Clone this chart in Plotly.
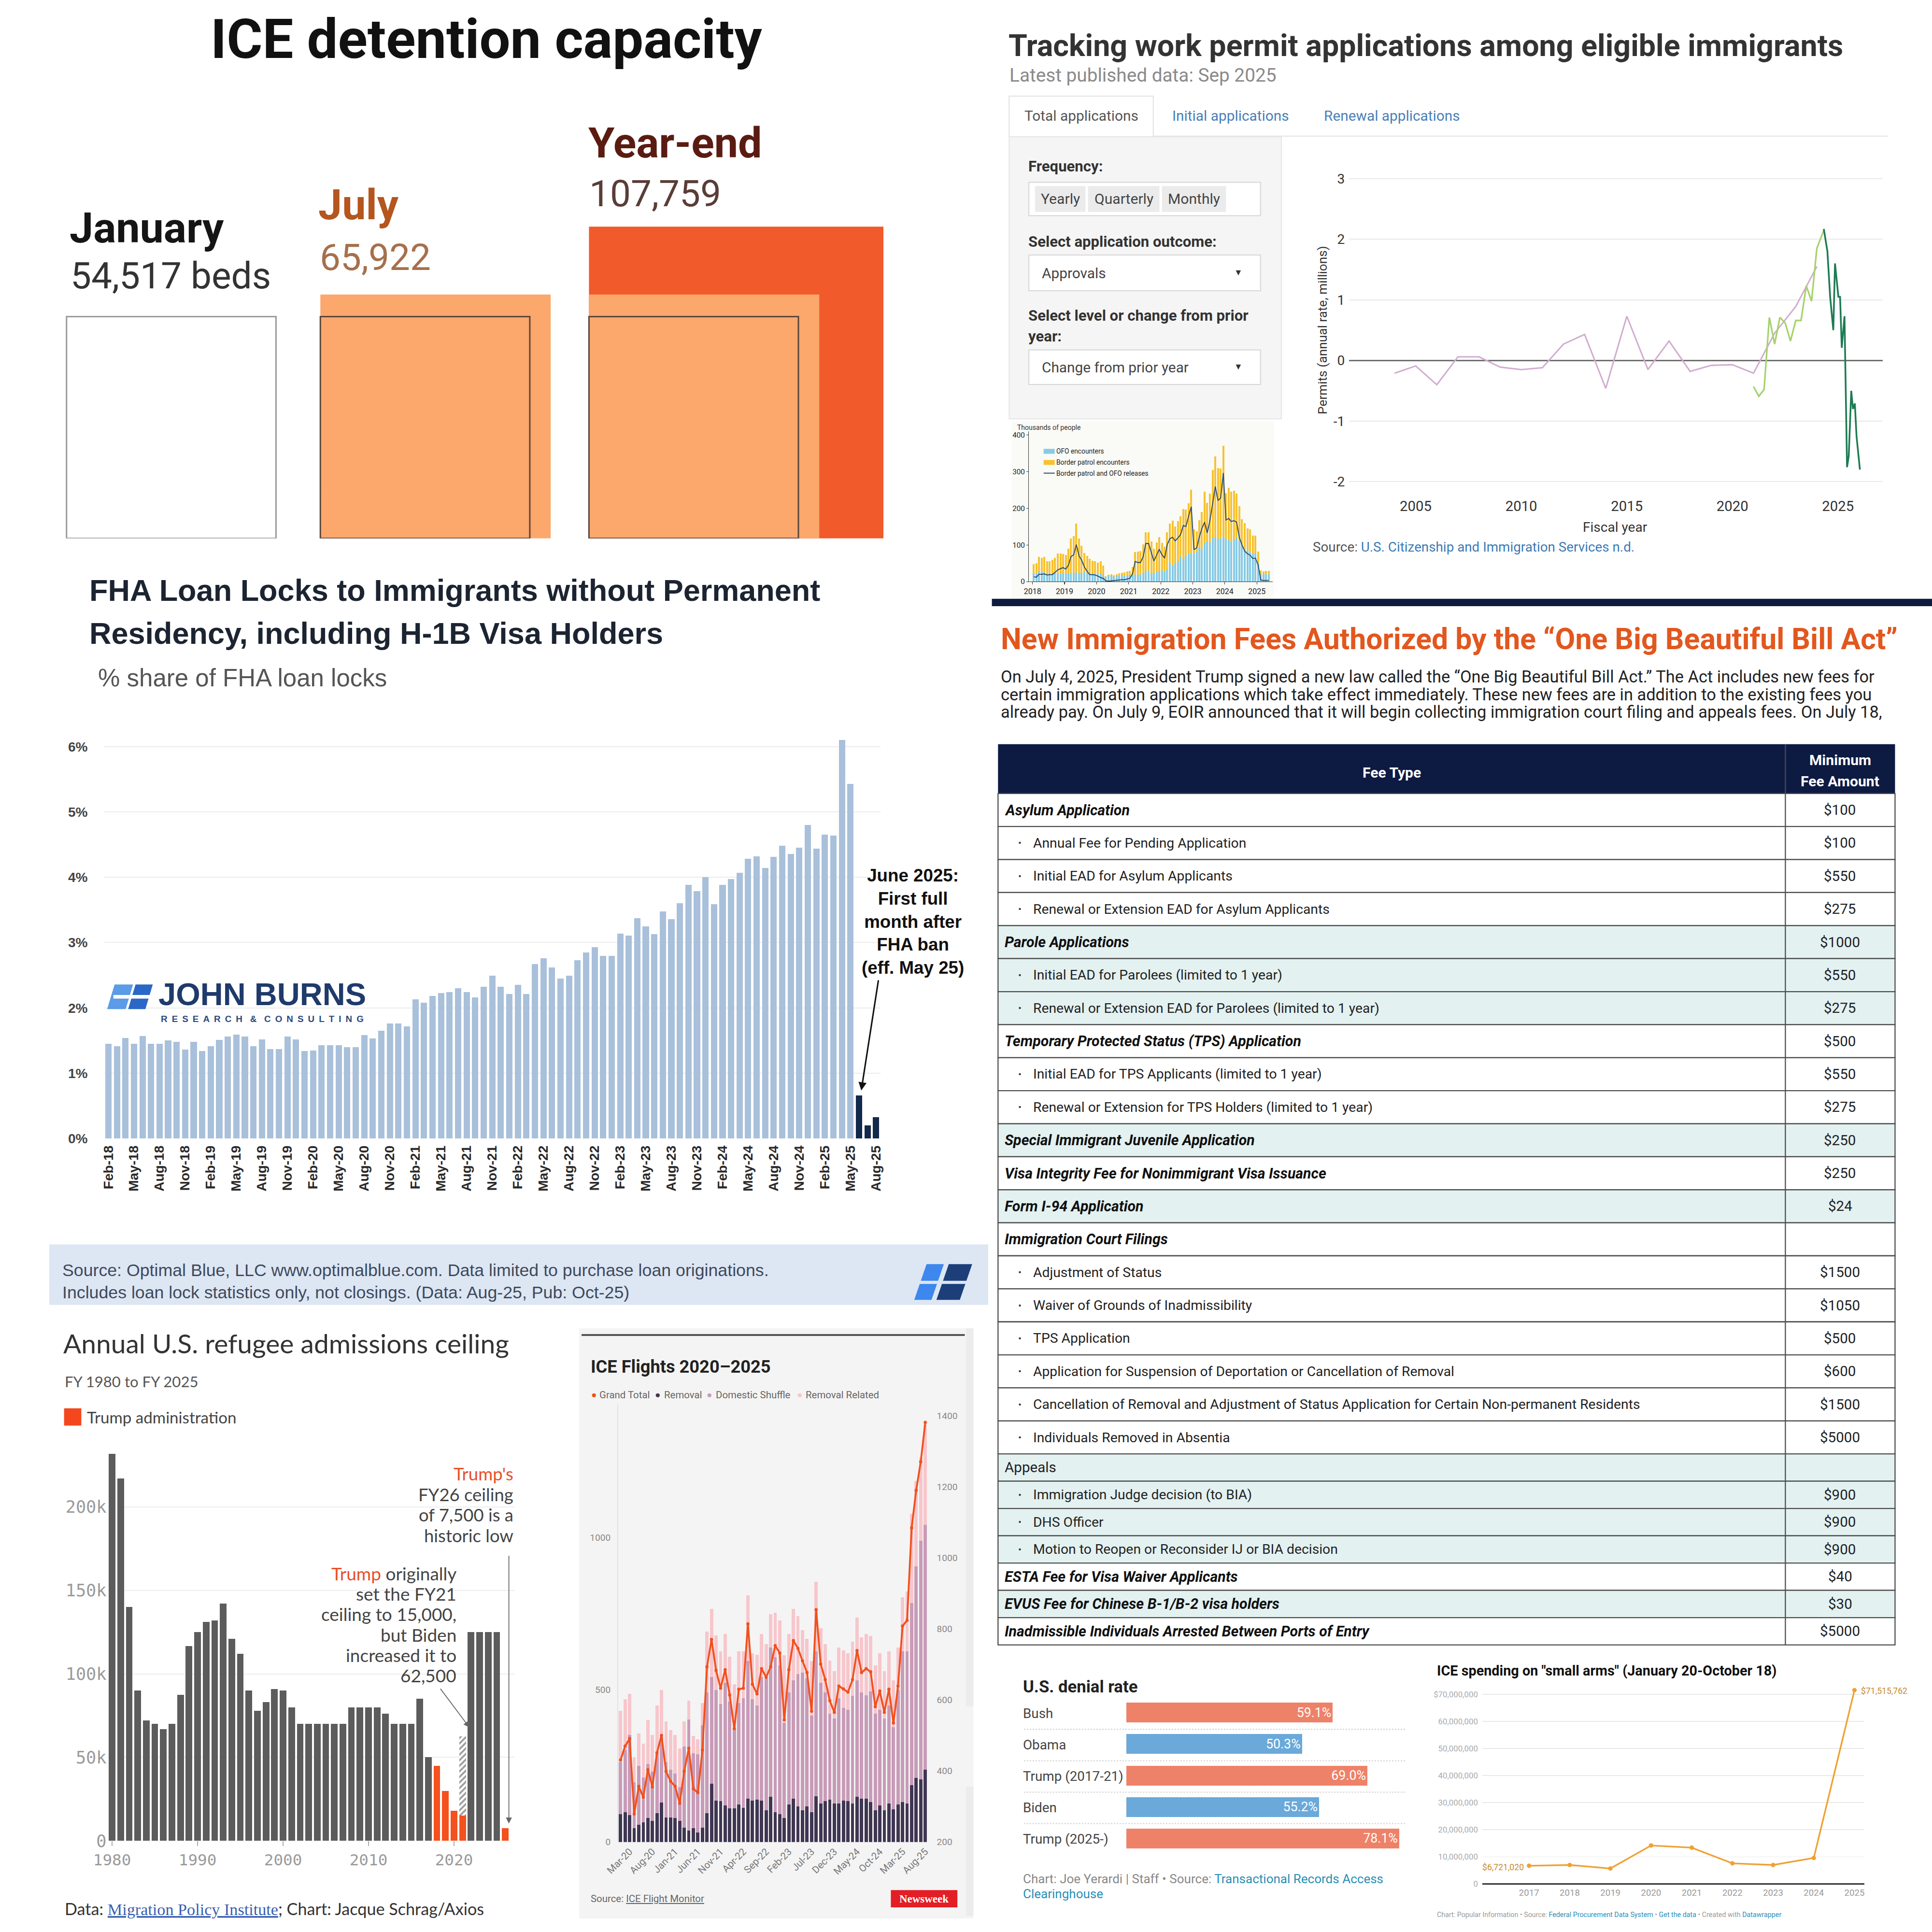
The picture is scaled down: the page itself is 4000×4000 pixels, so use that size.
import math
import pandas as pd
import plotly.graph_objects as go

# ============================ DATA ============================
# ICE detention capacity
det_periods = ["January", "July", "Year-end"]
det_beds = [54517, 65922, 107759]
det_value_text = ["54,517 beds", "65,922", "107,759"]

# Work permit approvals, change from prior year (millions)
wp_yearly_x = list(range(2004, 2025))
wp_yearly_y = [-0.21, -0.09, -0.40, 0.06, 0.06, -0.11, -0.15, -0.12, 0.27, 0.43, -0.46,
               0.73, -0.15, 0.32, -0.18, -0.08, -0.07, -0.21, 0.45, 0.89, 1.55]
wp_quarterly_x = [2021.0, 2021.25, 2021.5, 2021.75, 2022.0, 2022.25, 2022.5, 2022.75,
                  2023.0, 2023.25, 2023.5, 2023.75, 2024.0, 2024.25, 2024.33]
wp_quarterly_y = [-0.43, -0.59, -0.48, 0.71, 0.27, 0.71, 0.62, 0.32, 0.66, 0.66, 1.23,
                  0.98, 1.85, 2.08, 2.15]
wp_monthly_x = [2024.33, 2024.5, 2024.63, 2024.78, 2024.86, 2024.94, 2025.02, 2025.10, 2025.18,
                2025.31, 2025.43, 2025.51, 2025.63, 2025.71, 2025.80, 2025.88, 2026.04]
wp_monthly_y = [2.17, 1.80, 1.05, 0.50, 1.60, 1.35, 1.05, 1.05, 0.21, 0.73, -1.76, -1.58,
                -0.50, -0.80, -0.71, -1.25, -1.80]
wp_tabs = ["Total applications", "Initial applications", "Renewal applications"]
wp_freq = ["Yearly", "Quarterly", "Monthly"]

# Border encounters inset (thousands of people, monthly Jan 2018 - May 2025)
border_ofo = [22, 22, 28, 26, 25, 20, 21, 22, 23, 23, 23, 23,
              23, 23, 24, 24, 25, 23, 24, 26, 24, 22, 22, 22,
              22, 22, 18, 12, 16, 17, 13, 15, 16, 17, 16, 17,
              17, 18, 18, 19, 20, 24, 28, 30, 22, 24, 26, 28,
              30, 26, 33, 52, 45, 50, 56, 68, 62, 70, 75, 77,
              78, 82, 92, 90, 105, 110, 107, 121, 120, 118, 117, 120,
              118, 114, 108, 116, 120, 112, 100, 90, 84, 80, 78, 76,
              52, 20, 20, 20, 20]
border_bp = [26, 28, 39, 39, 42, 36, 34, 38, 41, 53, 53, 52,
             50, 67, 94, 100, 133, 95, 73, 52, 46, 40, 35, 34,
             30, 33, 26, 3, 2, 3, 4, 5, 6, 7, 9, 11,
             12, 22, 62, 63, 63, 78, 107, 104, 87, 66, 81, 93,
             75, 69, 102, 106, 121, 100, 109, 110, 136, 127, 139, 173,
             64, 55, 75, 100, 140, 105, 133, 184, 221, 192, 191, 250,
             123, 142, 137, 132, 120, 93, 70, 70, 61, 63, 47, 49,
             30, 10, 8, 9, 9]
border_releases = [13, 12, 20, 20, 21, 18, 19, 19, 25, 32, 35, 38,
                   34, 45, 68, 73, 101, 70, 58, 40, 28, 19, 19, 18,
                   15, 11, 9, 2, 1, 2, 3, 4, 5, 5, 5, 7,
                   9, 22, 55, 52, 52, 68, 104, 104, 80, 56, 72, 88,
                   73, 64, 100, 117, 121, 111, 119, 128, 153, 150, 179, 204,
                   87, 92, 120, 145, 162, 133, 166, 210, 259, 221, 228, 296,
                   168, 172, 164, 166, 162, 120, 100, 83, 76, 72, 63, 64,
                   45, 4, 3, 3, 3]
border_years = ["2018", "2019", "2020", "2021", "2022", "2023", "2024", "2025"]

# FHA loan locks share (%), Feb-18 .. Aug-25
fha_share = [1.45, 1.41, 1.54, 1.45, 1.57, 1.45, 1.45, 1.50, 1.48, 1.36, 1.48,
             1.34, 1.41, 1.51, 1.56, 1.59, 1.56, 1.41, 1.52, 1.37, 1.37, 1.56, 1.52,
             1.34, 1.35, 1.43, 1.43, 1.43, 1.40, 1.40, 1.58, 1.53, 1.65, 1.76, 1.76,
             1.72, 2.13, 2.08, 2.18, 2.23, 2.24, 2.30, 2.24, 2.16, 2.32, 2.49, 2.32,
             2.21, 2.35, 2.21, 2.67, 2.76, 2.62, 2.45, 2.49, 2.73, 2.85, 2.93, 2.80,
             2.80, 3.14, 3.11, 3.37, 3.25, 3.13, 3.48, 3.36, 3.60, 3.88, 3.79, 4.00,
             3.59, 3.88, 3.97, 4.07, 4.28, 4.32, 4.14, 4.31, 4.48, 4.36, 4.45, 4.80,
             4.44, 4.65, 4.64, 6.10, 5.43, 0.66, 0.20, 0.33]
fha_ban_months = 3  # last three months (after FHA ban) in dark

# Refugee admissions ceiling FY1980 - FY2026
ref_years = list(range(1980, 2027))
ref_ceiling = [231700, 217000, 140000, 90000, 72000, 70000, 67000, 70000, 87500, 116500,
               125000, 131000, 132000, 142000, 121000, 112000, 90000, 78000, 83000, 91000,
               90000, 80000, 70000, 70000, 70000, 70000, 70000, 70000, 80000, 80000,
               80000, 80000, 76000, 70000, 70000, 70000, 85000, 50000, 45000, 30000,
               18000, 15000, 125000, 125000, 125000, 125000, 7500]
ref_trump_years = [2018, 2019, 2020, 2021, 2026]
ref_fy21_biden = 62500

# ICE flights (monthly Jan-20 .. Aug-25)
flt_removal = [92, 98, 88, 45, 57, 64, 79, 69, 95, 130, 81, 81, 79, 69, 47, 37, 45, 32, 47, 95,
               191, 136, 134, 121, 111, 111, 123, 113, 142, 136, 139, 136, 104, 149, 98, 92, 79, 123, 142, 117,
               104, 117, 98, 151, 126, 134, 139, 126, 126, 136, 134, 126, 149, 142, 142, 132, 104, 120, 104, 126,
               108, 123, 132, 126, 187, 210, 206, 238]
flt_domestic = [171, 204, 264, 151, 194, 148, 178, 163, 194, 216, 182, 157, 146, 112, 267, 366, 246, 257, 337, 397,
                352, 363, 320, 403, 350, 260, 334, 360, 452, 333, 309, 407, 433, 490, 509, 489, 312, 369, 389, 435,
                452, 420, 318, 475, 398, 358, 283, 280, 347, 305, 301, 354, 382, 350, 340, 363, 318, 315, 302, 322,
                270, 376, 494, 500, 598, 696, 783, 804]
flt_related = [168, 167, 134, 83, 105, 112, 144, 120, 159, 153, 134, 130, 127, 127, 83, 61, 58, 48, 73, 200,
               223, 180, 172, 159, 148, 147, 169, 153, 216, 151, 168, 140, 114, 110, 146, 147, 222, 191, 235, 191,
               140, 130, 178, 229, 178, 159, 175, 156, 166, 189, 185, 178, 206, 181, 201, 182, 159, 185, 156, 178,
               153, 140, 178, 197, 293, 280, 273, 328]
flt_total = [431, 470, 491, 279, 357, 326, 404, 355, 451, 500, 399, 371, 357, 309, 399, 464, 350, 339, 459, 693,
             770, 683, 633, 685, 614, 519, 630, 633, 814, 644, 617, 688, 664, 693, 753, 732, 544, 685, 767, 745,
             710, 677, 568, 854, 701, 657, 598, 565, 639, 631, 622, 657, 739, 677, 688, 679, 581, 625, 565, 630,
             535, 639, 808, 824, 1084, 1190, 1270, 1381]
flt_series = ["Grand Total", "Removal", "Domestic Shuffle", "Removal Related"]

# Immigration fee table
fee_types = ["Asylum Application", "Annual Fee for Pending Application", "Initial EAD for Asylum Applicants",
             "Renewal or Extension EAD for Asylum Applicants", "Parole Applications",
             "Initial EAD for Parolees (limited to 1 year)",
             "Renewal or Extension EAD for Parolees (limited to 1 year)",
             "Temporary Protected Status (TPS) Application", "Initial EAD for TPS Applicants (limited to 1 year)",
             "Renewal or Extension for TPS Holders (limited to 1 year)", "Special Immigrant Juvenile Application",
             "Visa Integrity Fee for Nonimmigrant Visa Issuance", "Form I-94 Application",
             "Immigration Court Filings", "Adjustment of Status", "Waiver of Grounds of Inadmissibility",
             "TPS Application", "Application for Suspension of Deportation or Cancellation of Removal",
             "Cancellation of Removal and Adjustment of Status Application for Certain Non-permanent Residents",
             "Individuals Removed in Absentia", "Appeals", "Immigration Judge decision (to BIA)", "DHS Officer",
             "Motion to Reopen or Reconsider IJ or BIA decision", "ESTA Fee for Visa Waiver Applicants",
             "EVUS Fee for Chinese B-1/B-2 visa holders", "Inadmissible Individuals Arrested Between Ports of Entry"]
fee_amounts = ["$100", "$100", "$550", "$275", "$1000", "$550", "$275", "$500", "$550", "$275", "$250",
               "$250", "$24", "", "$1500", "$1050", "$500", "$600", "$1500", "$5000", "", "$900", "$900",
               "$900", "$40", "$30", "$5000"]
fee_kind = ["h", "s", "s", "s", "h", "s", "s", "h", "s", "s", "h", "h", "h", "h", "s", "s", "s", "s", "s",
            "s", "p", "s", "s", "s", "h", "h", "h"]
fee_shaded = [0, 0, 0, 0, 1, 1, 1, 0, 0, 0, 1, 0, 1, 0, 0, 0, 0, 0, 0, 0, 1, 1, 1, 1, 0, 1, 0]

# U.S. denial rate
den_admin = ["Bush", "Obama", "Trump (2017-21)", "Biden", "Trump (2025-)"]
den_rate = [59.1, 50.3, 69.0, 55.2, 78.1]
den_party = ["R", "D", "R", "D", "R"]

# ICE spending on small arms
arms_years = [2017, 2018, 2019, 2020, 2021, 2022, 2023, 2024, 2025]
arms_spend = [6721020, 7000000, 5700000, 14200000, 13400000, 7600000, 7000000, 9600000, 71515762]

# ============================ HELPERS ============================
K = 4000 / 1568.0
ROBOTO = "Roboto"
ARIAL = "Liberation Sans"
LATO = "Lato"
MONO = "DejaVu Sans Mono"
NB = "\u00a0"
TH = "\u2009"


def PX(d):
    return d / 1568.0


def PY(d):
    return 1.0 - d / 1568.0


def FS(d):
    return d * K


def IS(d):
    return int(round(d * K))


ann = []
shp = []


def T(x, y, s, size, color="#222222", family=ROBOTO, xa="left", ya="middle", angle=0, align="left"):
    ann.append(dict(x=PX(x), y=PY(y), xref="paper", yref="paper", text=s, showarrow=False,
                    font=dict(size=FS(size), color=color, family=family), xanchor=xa, yanchor=ya,
                    textangle=angle, borderpad=0, align=align))


def R(x0, y0, x1, y1, fill="rgba(0,0,0,0)", line=None, lw=0, layer="above"):
    shp.append(dict(type="rect", xref="paper", yref="paper", x0=PX(x0), x1=PX(x1), y0=PY(y1), y1=PY(y0),
                    fillcolor=fill, line=dict(color=line or "rgba(0,0,0,0)", width=lw), layer=layer))


def L(x0, y0, x1, y1, color, lw, dash="solid", layer="above"):
    shp.append(dict(type="line", xref="paper", yref="paper", x0=PX(x0), x1=PX(x1), y0=PY(y0), y1=PY(y1),
                    line=dict(color=color, width=lw, dash=dash), layer=layer))


def POLY(pts, fill):
    p = "M " + " L ".join(f"{PX(a):.5f},{PY(b):.5f}" for a, b in pts) + " Z"
    shp.append(dict(type="path", xref="paper", yref="paper", path=p, fillcolor=fill,
                    line=dict(width=0), layer="above"))


def ARROW(hx, hy, tx, ty, color, width, head=2, size=1.0):
    ann.append(dict(x=PX(hx), y=PY(hy), xref="paper", yref="paper", ax=(tx - hx) * K, ay=(ty - hy) * K,
                    text="", showarrow=True, arrowhead=head, arrowsize=size, arrowwidth=width,
                    arrowcolor=color))


def DOM(x0, x1, y0, y1):
    return dict(domain=[PX(x0), PX(x1)]), dict(domain=[PY(y1), PY(y0)])


def base_axis(**kw):
    d = dict(showgrid=False, zeroline=False, showline=False, ticks="", showticklabels=False, fixedrange=True,
             automargin=False)
    d.update(kw)
    return d


fig = go.Figure()
layout_axes = {}

# ============================ PANEL 1: ICE detention ============================
P1_UX, P1_UY = 0.728, 0.771
dx, dy = DOM(40, 740, 150, 437)
layout_axes["xaxis"] = base_axis(**dx, range=[0, 700 / P1_UX], anchor="y")
layout_axes["yaxis"] = base_axis(**dy, range=[0, 287 / P1_UY], anchor="x")
p1_left = [(d - 40) / P1_UX for d in (54, 260, 478)]
side = [math.sqrt(v) for v in det_beds]
p1_fills = ["#ffffff", "#fca76c", "#f15a2b"]
for g in range(3):
    o = p1_left[g]
    for lvl in range(g, -1, -1):
        s = side[lvl]
        if lvl == 0:
            fc = "#ffffff" if g == 0 else "rgba(0,0,0,0)"
            lc = "#9b9b9b" if g == 0 else "#5b463c"
            lw = FS(1.2)
        else:
            fc, lc, lw = p1_fills[lvl], "rgba(0,0,0,0)", 0
        shp.append(dict(type="rect", xref="x", yref="y", x0=o, x1=o + s, y0=0, y1=s, fillcolor=fc,
                        line=dict(color=lc, width=lw), layer="above"))
fig.add_trace(go.Scatter(x=[p1_left[i] + side[i] for i in range(3)], y=side, mode="markers",
                         marker=dict(opacity=0), hoverinfo="skip", showlegend=False, xaxis="x", yaxis="y"))
T(395, 32, "<b>ICE detention capacity</b>", 44.5, "#111111", xa="center")
T(56, 185, f"<b>{det_periods[0]}</b>", 34.5, "#151515")
T(57, 224, det_value_text[0], 30, "#333333")
T(258, 166, f"<b>{det_periods[1]}</b>", 34.5, "#b4561d")
T(259, 209, det_value_text[1], 30, "#a6704c")
T(477, 116, f"<b>{det_periods[2]}</b>", 34.5, "#5a1c12")
T(478, 157, det_value_text[2], 30, "#5a3d37")

# ============================ PANEL 2: Work permits ============================
T(818, 37, "<b>Tracking work permit applications among eligible immigrants</b>", 24.6, "#333333")
T(819, 61, "Latest published data: Sep 2025", 15.2, "#8a8a8a")
R(819, 78, 936, 111, fill="#ffffff", line="#e2e2e2", lw=FS(0.8))
L(936, 110.5, 1532, 110.5, "#e6e6e6", FS(0.9))
T(831, 94, wp_tabs[0], 11.7, "#555555")
T(951, 94, wp_tabs[1], 11.7, "#4a80b8")
T(1074, 94, wp_tabs[2], 11.7, "#4a80b8")
R(819, 111, 1040, 340, fill="#f5f5f5", line="#e6e6e6", lw=FS(0.8))
T(834, 135, "<b>Frequency:</b>", 12.2, "#333333")
R(835, 148, 1023, 175, fill="#ffffff", line="#d6d6d6", lw=FS(0.8))
for (bx0, bx1), lab in zip([(840, 881), (883, 941), (943, 995)], wp_freq):
    R(bx0, 151, bx1, 172, fill="#ebebeb")
    T((bx0 + bx1) / 2, 161.5, lab, 11.8, "#444444", xa="center")
T(834, 196, "<b>Select application outcome:</b>", 12.2, "#333333")
R(835, 207, 1023, 236, fill="#ffffff", line="#d6d6d6", lw=FS(0.8))
T(845, 221.5, "Approvals", 11.7, "#444444")
T(1005, 221, "▼", 7, "#333333", xa="center")
T(834, 256, "<b>Select level or change from prior</b>", 12.2, "#333333")
T(834, 273, "<b>year:</b>", 12.2, "#333333")
R(835, 284, 1023, 312, fill="#ffffff", line="#d6d6d6", lw=FS(0.8))
T(845, 298, "Change from prior year", 11.7, "#444444")
T(1005, 297.5, "▼", 7, "#333333", xa="center")

dx, dy = DOM(1095, 1528, 142.5, 400.8)
layout_axes["xaxis2"] = base_axis(**dx, range=[2001.85, 2027.12], anchor="y2", showticklabels=True,
                                  tickvals=[2005, 2010, 2015, 2020, 2025],
                                  tickfont=dict(size=FS(11.5), color="#333333", family=ROBOTO),
                                  ticklabelstandoff=IS(2))
layout_axes["yaxis2"] = base_axis(**dy, range=[-2.2, 3.05], anchor="x2", showticklabels=True,
                                  tickvals=[-2, -1, 0, 1, 2, 3], ticktext=["-2", "-1", "0", "1", "2", "3"],
                                  showgrid=True, gridcolor="#e8e8e8",
                                  gridwidth=FS(0.8), zeroline=True, zerolinecolor="#707070",
                                  zerolinewidth=FS(1.2),
                                  tickfont=dict(size=FS(11), color="#333333", family=ROBOTO),
                                  ticklabelstandoff=IS(3))
fig.add_trace(go.Scatter(x=wp_yearly_x, y=wp_yearly_y, mode="lines", line=dict(color="#d2accf", width=FS(1.2)),
                         showlegend=False, xaxis="x2", yaxis="y2"))
fig.add_trace(go.Scatter(x=wp_quarterly_x, y=wp_quarterly_y, mode="lines",
                         line=dict(color="#a6d26c", width=FS(1.3)), showlegend=False, xaxis="x2", yaxis="y2"))
fig.add_trace(go.Scatter(x=wp_monthly_x, y=wp_monthly_y, mode="lines", line=dict(color="#1d7b52", width=FS(1.4)),
                         showlegend=False, xaxis="x2", yaxis="y2"))
T(1073, 268, "Permits (annual rate, millions)", 10.3, "#333333", xa="center", angle=-90)
T(1311, 428, "Fiscal year", 11, "#333333", xa="center")
T(1065, 444, "Source: <span style='color:#3d7ab5'>U.S. Citizenship and Immigration Services n.d.</span>",
  10.9, "#555555")

# ---- inset: border encounters ----
R(821, 342, 1034, 486, fill="#fafaf6", layer="below")
months_b = pd.date_range("2018-01-01", periods=len(border_ofo), freq="MS") + pd.Timedelta(days=14)
dx, dy = DOM(835, 1033, 350, 472)
layout_axes["xaxis3"] = base_axis(**dx, type="date", range=["2017-11-20", "2025-07-01"], anchor="y3",
                                  showticklabels=True, showline=True, linecolor="#333333", linewidth=FS(0.5),
                                  ticks="outside", ticklen=FS(2), tickcolor="#333333", tickwidth=FS(0.5),
                                  tickvals=[f"{y}-01-01" for y in border_years], ticktext=border_years,
                                  tickfont=dict(size=FS(6.3), color="#222222", family=ROBOTO))
layout_axes["yaxis3"] = base_axis(**dy, range=[0, 410], anchor="x3", showticklabels=True, showline=True,
                                  linecolor="#333333", linewidth=FS(0.5), ticks="outside", ticklen=FS(1.5),
                                  tickcolor="#333333", tickvals=[0, 100, 200, 300, 400],
                                  tickfont=dict(size=FS(6.0), color="#222222", family=ROBOTO))
bw = 22 * 86400000
fig.add_trace(go.Bar(x=months_b, y=border_ofo, marker=dict(color="#86cbe6", line=dict(width=0)), width=bw,
                     showlegend=False, xaxis="x3", yaxis="y3"))
fig.add_trace(go.Bar(x=months_b, y=border_bp, marker=dict(color="#f8c22f", line=dict(width=0)), width=bw,
                     showlegend=False, xaxis="x3", yaxis="y3"))
fig.add_trace(go.Scatter(x=months_b, y=border_releases, mode="lines", line=dict(color="#2f4d6d", width=FS(0.8)),
                         showlegend=False, xaxis="x3", yaxis="y3"))
T(825, 347, "Thousands of people", 5.5, "#333333")
R(847, 364.3, 856, 368.3, fill="#86cbe6")
T(857, 366.3, "OFO encounters", 5.4, "#222222")
R(847, 373.3, 856, 377.3, fill="#f8c22f")
T(857, 375.3, "Border patrol encounters", 5.4, "#222222")
L(847, 384, 856, 384, "#2f4d6d", FS(0.8))
T(857, 384, "Border patrol and OFO releases", 5.4, "#222222")
R(805, 486, 1568, 492, fill="#0e1a3e")

# ============================ PANEL 3: FHA ============================
T(72, 479, "<b>FHA Loan Locks to Immigrants without Permanent</b>", 24.7, "#1c2431", family=ARIAL)
T(72, 514, "<b>Residency, including H-1B Visa Holders</b>", 24.7, "#1c2431", family=ARIAL)
T(79, 550, "% share of FHA loan locks", 20, "#555555", family=ARIAL)
fha_months = list(pd.date_range("2018-02-01", periods=len(fha_share), freq="MS").strftime("%b-%y"))
dx, dy = DOM(84.5, 714.5, 598, 924)
layout_axes["xaxis4"] = base_axis(**dx, type="category", range=[-0.5, len(fha_share) - 0.5], anchor="y4",
                                  showticklabels=True, tickvals=fha_months[::3], tickangle=-90,
                                  tickfont=dict(size=FS(11), color="#2a2a2a", family=ARIAL, weight="bold"),
                                  ticklabelstandoff=IS(3))
layout_axes["yaxis4"] = base_axis(**dy, range=[0, 6.15], anchor="x4", showticklabels=True,
                                  tickvals=[0, 1, 2, 3, 4, 5, 6], ticktext=[f"{v}%" for v in range(7)],
                                  showgrid=True, gridcolor="#ececec", gridwidth=FS(0.8),
                                  tickfont=dict(size=FS(11), color="#444444", family=ARIAL, weight="bold"),
                                  ticklabelstandoff=IS(13))
nl = len(fha_share) - fha_ban_months
fig.add_trace(go.Bar(x=fha_months[:nl], y=fha_share[:nl], marker=dict(color="#a9c0da", line=dict(width=0)),
                     width=0.74, showlegend=False, xaxis="x4", yaxis="y4"))
fig.add_trace(go.Bar(x=fha_months[nl:], y=fha_share[nl:], marker=dict(color="#13294b", line=dict(width=0)),
                     width=0.74, showlegend=False, xaxis="x4", yaxis="y4"))
T(741, 748, "<b>June 2025:<br>First full<br>month after<br>FHA ban<br>(eff. May 25)</b>", 14.4, "#111111",
  family=ARIAL, xa="center", align="center")
ARROW(699, 885, 713, 795, "#111111", FS(1.2), head=2, size=1.1)
# John Burns logo
POLY([(93, 799), (108, 799), (102, 819), (87, 819)], "#5b9be8")
POLY([(110, 799), (124, 799), (118, 819), (104, 819)], "#2b67c7")
R(92, 807.5, 122, 810.5, fill="#ffffff")
T(128, 807, "<b>JOHN BURNS</b>", 25.5, "#1f3a6b", family=ARIAL)
spaced = (NB + TH).join("RESEARCH") + NB * 3 + "&" + NB * 3 + (NB + TH).join("CONSULTING")
T(130, 827, f"<b>{spaced}</b>", 7.4, "#2d4a7c", family=ARIAL)
# footer
R(40, 1010, 802, 1059, fill="#dde6f3", layer="below")
T(50, 1031, "Source: Optimal Blue, LLC www.optimalblue.com. Data limited to purchase loan originations.",
  14, "#3d4a5c", family=ARIAL)
T(50, 1049, "Includes loan lock statistics only, not closings. (Data: Aug-25, Pub: Oct-25)", 14, "#3d4a5c",
  family=ARIAL)
POLY([(752, 1026), (766, 1026), (756, 1055), (742, 1055)], "#3d87ee")
POLY([(770, 1026), (789, 1026), (779, 1055), (760, 1055)], "#1c3f7a")
R(742, 1039.5, 790, 1042, fill="#dde6f3")

# ============================ PANEL 4: Fee table ============================
T(812, 519, "<b>New Immigration Fees Authorized by the “One Big Beautiful Bill Act”</b>", 23.8, "#e2571e")
para = ["On July 4, 2025, President Trump signed a new law called the “One Big Beautiful Bill Act.” The Act includes new fees for",
        "certain immigration applications which take effect immediately. These new fees are in addition to the existing fees you",
        "already pay. On July 9, EOIR announced that it will begin collecting immigration court filing and appeals fees. On July 18,"]
for i, line in enumerate(para):
    T(812, 549 + 14.5 * i, line, 13.5, "#222222")
TX0, TX1, TDIV = 810, 1538, 1449
R(TX0, 604, TX1, 644, fill="#0d1a42")
T((TX0 + TDIV) / 2, 627, "<b>Fee Type</b>", 11.8, "#ffffff", xa="center")
T((TDIV + TX1) / 2, 617, "<b>Minimum</b>", 11.8, "#ffffff", xa="center")
T((TDIV + TX1) / 2, 634, "<b>Fee Amount</b>", 11.8, "#ffffff", xa="center")
row_h = [26.8] * 20 + [22.14] * 7
yy = 644
for i in range(len(fee_types)):
    h = row_h[i]
    R(TX0, yy, TX1, yy + h, fill="#e3f1f1" if fee_shaded[i] else "#ffffff", line="#4d4d4d", lw=FS(0.9))
    yc = yy + h / 2
    if fee_kind[i] == "h":
        T(815, yc, f"<b><i>{fee_types[i]}</i></b>", 11.9, "#111111")
    elif fee_kind[i] == "p":
        T(815, yc, fee_types[i], 11.6, "#222222")
    else:
        T(826, yc, "•", 8, "#333333")
        T(838, yc, fee_types[i], 11.1, "#222222")
    if fee_amounts[i]:
        T((TDIV + TX1) / 2, yc, fee_amounts[i], 11.6, "#222222", xa="center")
    yy += h
L(TDIV, 604, TDIV, yy, "#4d4d4d", FS(0.9))

# ============================ PANEL 5: Refugee ceiling ============================
T(51, 1090, "Annual U.S. refugee admissions ceiling", 21.6, "#333333", family=LATO)
T(52, 1121, "FY 1980 to FY 2025", 12.2, "#555555", family=LATO)
R(52, 1143, 66, 1157, fill="#f5471d")
T(70, 1150, "Trump administration", 13, "#444444", family=LATO)
dx, dy = DOM(88, 418, 1175, 1494)
layout_axes["xaxis5"] = base_axis(**dx, range=[1979.571, 2027.14], anchor="y5", showticklabels=True,
                                  tickvals=[1980, 1990, 2000, 2010, 2020], ticks="outside", ticklen=FS(4),
                                  tickcolor="#aaaaaa", tickwidth=FS(0.8),
                                  tickfont=dict(size=FS(12.8), color="#9a9a9a", family=MONO))
layout_axes["yaxis5"] = base_axis(**dy, range=[0, 235400], anchor="x5", showticklabels=True,
                                  tickvals=[0, 50000, 100000, 150000, 200000],
                                  ticktext=["0", "50k", "100k", "150k", "200k"], showgrid=True,
                                  gridcolor="#ededed", gridwidth=FS(0.8),
                                  tickfont=dict(size=FS(13.8), color="#9a9a9a", family=MONO),
                                  ticklabelstandoff=IS(1))
gx = [y for y in ref_years if y not in ref_trump_years]
gy = [ref_ceiling[ref_years.index(y)] for y in gx]
rx = list(ref_trump_years)
ry = [ref_ceiling[ref_years.index(y)] for y in rx]
fig.add_trace(go.Bar(x=gx, y=gy, marker=dict(color="#5c5c5c", line=dict(width=0)), width=0.78,
                     showlegend=False, xaxis="x5", yaxis="y5"))
fig.add_trace(go.Bar(x=rx, y=ry, marker=dict(color="#f4511e", line=dict(width=0)), width=0.78,
                     showlegend=False, xaxis="x5", yaxis="y5"))
fig.add_trace(go.Bar(x=[2021], y=[ref_fy21_biden - ref_ceiling[ref_years.index(2021)]],
                     marker=dict(color="#ffffff", line=dict(width=0),
                                 pattern=dict(shape="/", fgcolor="#333333", bgcolor="#ffffff", size=FS(3.2),
                                              solidity=0.45)),
                     width=0.78, showlegend=False, xaxis="x5", yaxis="y5"))
for i, (s, c) in enumerate([("Trump's", "#e8502a"), ("FY26 ceiling", "#444444"), ("of 7,500 is a", "#444444"),
                            ("historic low", "#444444")]):
    T(417, 1196 + 16.7 * i, s, 14.3, c, family=LATO, xa="right")
blk = ["<span style='color:#e8502a'>Trump</span> originally", "set the FY21", "ceiling to 15,000,", "but Biden",
       "increased it to", "62,500"]
for i, s in enumerate(blk):
    T(371, 1277 + 16.6 * i, s, 14.5, "#444444", family=LATO, xa="right")
ARROW(413, 1480, 413, 1262, "#666666", FS(0.7), head=2, size=1.4)
ARROW(381, 1402, 357, 1370, "#666666", FS(0.7), head=2, size=1.4)
T(52, 1549, "Data: <span style='font-family:Liberation Serif;color:#3a5fb0;text-decoration:underline'>"
            "Migration Policy Institute</span>; Chart: Jacque Schrag/Axios", 13.4, "#333333", family=LATO)

# ============================ PANEL 6: ICE flights ============================
R(470, 1078, 790, 1557, fill="#f4f4f4", layer="below")
R(784, 1078, 790, 1385, fill="#ececec", layer="below")
R(784, 1450, 790, 1555, fill="#ececec", layer="below")
L(472, 1083.5, 783, 1083.5, "#555555", FS(1.6))
T(479, 1109, "<b>ICE Flights 2020–2025</b>", 14.2, "#222222")
leg_cols = ["#f2501c", "#3f3652", "#c89bb8", "#f7c6cc"]
for (lx, tx_), lab, col in zip([(482, 486), (534, 538.5), (576, 580.5), (649, 653.5)], flt_series, leg_cols):
    T(lx, 1132, "●", 7.5, col, xa="center")
    T(tx_, 1132, lab, 8.0, "#666666")
flt_months = list(pd.date_range("2020-01-01", periods=len(flt_total), freq="MS").strftime("%b-%y"))
dx, dy = DOM(501.8, 752.8, 1140, 1495)
layout_axes["xaxis6"] = base_axis(**dx, type="category", range=[-0.5, len(flt_total) - 0.5], anchor="y6",
                                  showticklabels=True, tickvals=flt_months[2::5], tickangle=-45,
                                  tickfont=dict(size=FS(8), color="#777777", family=ROBOTO),
                                  ticklabelstandoff=IS(1))
layout_axes["yaxis6"] = base_axis(**dy, range=[0, 1437], anchor="x6", showticklabels=True,
                                  tickvals=[0, 500, 1000], showline=True, linecolor="#e2e2e2",
                                  linewidth=FS(0.8),
                                  tickfont=dict(size=FS(7.5), color="#888888", family=ROBOTO),
                                  ticklabelstandoff=IS(4))
layout_axes["yaxis7"] = base_axis(range=[200, 1431], anchor="x6", overlaying="y6", side="right",
                                  showticklabels=True, tickvals=[200, 400, 600, 800, 1000, 1200, 1400],
                                  tickfont=dict(size=FS(7.5), color="#888888", family=ROBOTO),
                                  ticklabelstandoff=IS(7))
for vals, col in zip([flt_removal, flt_domestic, flt_related], leg_cols[1:]):
    fig.add_trace(go.Bar(x=flt_months, y=vals, marker=dict(color=col, line=dict(width=0)), width=0.72,
                         showlegend=False, xaxis="x6", yaxis="y6"))
fig.add_trace(go.Scatter(x=flt_months, y=flt_total, mode="lines+markers",
                         line=dict(color="#f2501c", width=FS(1.5)), marker=dict(size=FS(2.6), color="#f2501c"),
                         showlegend=False, xaxis="x6", yaxis="y7", cliponaxis=False))
T(479, 1541, "Source: <span style='text-decoration:underline'>ICE Flight Monitor</span>", 8, "#666666")
R(723, 1534, 777, 1548, fill="#e31e24")
T(750, 1541, "<b>Newsweek</b>", 9, "#ffffff", family="Liberation Serif", xa="center")

# ============================ PANEL 7: Denial rate ============================
T(830, 1369, "<b>U.S. denial rate</b>", 13.6, "#222222")
dx, dy = DOM(914, 1141, 1377.25, 1504.75)
layout_axes["xaxis8"] = base_axis(**dx, range=[0, 80], anchor="y8")
layout_axes["yaxis8"] = base_axis(**dy, type="category", categoryorder="array", categoryarray=den_admin,
                                  range=[len(den_admin) - 0.5, -0.5], anchor="x8")
for party, col in [("R", "#ee8268"), ("D", "#6aa9d9")]:
    ys = [a for a, p in zip(den_admin, den_party) if p == party]
    xs = [r for r, p in zip(den_rate, den_party) if p == party]
    fig.add_trace(go.Bar(x=xs, y=ys, orientation="h", marker=dict(color=col, line=dict(width=0)), width=0.63,
                         text=[f"{v:.1f}%" for v in xs], textposition="inside", insidetextanchor="end",
                         textfont=dict(color="#ffffff", size=FS(10.5), family=ROBOTO),
                         showlegend=False, xaxis="x8", yaxis="y8"))
for i, a in enumerate(den_admin):
    T(830, 1390.5 + 25.5 * i, a, 10.9, "#444444")
for i in range(4):
    L(831, 1403.5 + 25.5 * i, 1141, 1403.5 + 25.5 * i, "#d0d0d0", FS(0.8), dash="dot")
T(830, 1525, "Chart: Joe Yerardi | Staff • Source: <span style='color:#2a8fb5'>Transactional Records Access</span>",
  10.2, "#888888")
T(830, 1537, "Clearinghouse", 10.2, "#2a8fb5")

# ============================ PANEL 8: ICE small arms spending ============================
T(1166, 1356, "<b>ICE spending on \"small arms\" (January 20-October 18)</b>", 11.3, "#111111")
dx, dy = DOM(1203, 1513, 1370, 1529)
ytv = [0, 10e6, 20e6, 30e6, 40e6, 50e6, 60e6, 70e6]
ytt = ["0", "10,000,000", "20,000,000", "30,000,000", "40,000,000", "50,000,000", "60,000,000", "$70,000,000"]
layout_axes["xaxis9"] = base_axis(**dx, range=[2015.85, 2025.24], anchor="y9", showticklabels=True,
                                  tickvals=arms_years,
                                  tickfont=dict(size=FS(7.3), color="#999999", family=ROBOTO),
                                  ticklabelstandoff=IS(2))
layout_axes["yaxis9"] = base_axis(**dy, range=[0, 72.3e6], anchor="x9", showticklabels=True, tickvals=ytv,
                                  ticktext=ytt, showgrid=True, gridcolor="#e9e9e9", gridwidth=FS(0.7),
                                  zeroline=True, zerolinecolor="#333333", zerolinewidth=FS(0.9),
                                  tickfont=dict(size=FS(6.6), color="#aaaaaa", family=ROBOTO),
                                  ticklabelstandoff=IS(3))
fig.add_trace(go.Scatter(x=arms_years, y=arms_spend, mode="lines+markers",
                         line=dict(color="#f0a032", width=FS(1.3)), marker=dict(size=FS(3.6), color="#f0a032"),
                         cliponaxis=False, showlegend=False, xaxis="x9", yaxis="y9"))
T(1237, 1515.5, f"${arms_spend[0]:,}", 6.9, "#c98a2e", xa="right")
T(1510, 1372.5, f"${arms_spend[-1]:,}", 6.9, "#c98a2e")
T(1166, 1554, "Chart: Popular Information • Source: <span style='color:#2a8fb5'>Federal Procurement Data System</span>"
              " • <span style='color:#2a8fb5'>Get the data</span> • Created with "
              "<span style='color:#2a8fb5'>Datawrapper</span>", 5.6, "#999999")

# ============================ LAYOUT ============================
fig.update_layout(width=4000, height=4000, autosize=False, margin=dict(l=0, r=0, t=0, b=0, pad=0),
                  paper_bgcolor="#ffffff", plot_bgcolor="rgba(0,0,0,0)", barmode="stack", bargap=0,
                  showlegend=False, font=dict(family=ROBOTO), annotations=ann, shapes=shp, **layout_axes)
fig.write_html("out.html", config={"displayModeBar": False, "staticPlot": True},
               post_script="document.body.style.margin='0px';document.body.style.padding='0px';")
